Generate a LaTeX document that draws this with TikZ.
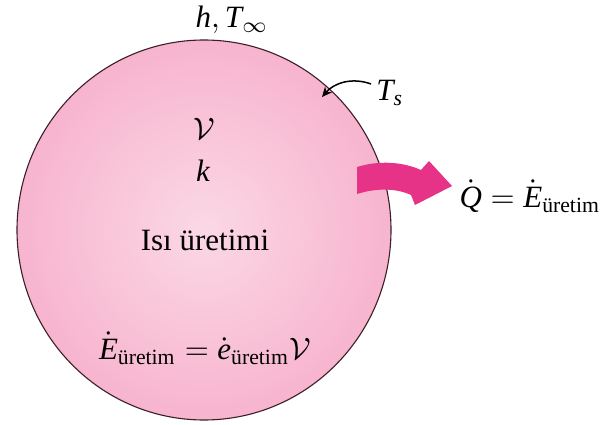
\documentclass[tikz,border=0pt]{standalone}
\usepackage{amsmath}
\usepackage{fontspec}
\setmainfont{Liberation Serif}
\usetikzlibrary{arrows.meta,shapes.geometric}
\newcommand{\dt}[1]{\dot{\textit{#1}}}
\definecolor{spherein}{RGB}{251,216,229}
\definecolor{sphereout}{RGB}{247,180,206}
\definecolor{heatarrow}{RGB}{230,50,135}
\definecolor{rimcol}{RGB}{60,30,40}
\begin{document}
\begin{tikzpicture}[x=1pt,y=-1pt,
  lbl/.style={inner sep=0pt, scale=3.1},
  sphere/.style={ellipse, draw=rimcol, line width=1.1pt, inner color=spherein, outer color=sphereout,
    minimum width=374pt, minimum height=380pt, inner sep=0pt}]
\useasboundingbox (0,0) rectangle (611,425);
\node[sphere] (sph) at (204,230) {};
\node[lbl] (amb) at (232,20) {$\textit{h}, \textit{T}_{\infty}$};
\node[lbl] (ts) at (390,93) {$\textit{T}_{\textit{s}}$};
\node[lbl] (vol) at (204,129) {$\mathcal{V}$};
\node[lbl] (kk) at (203,171) {$\textit{k}$};
\node[lbl] (gen) at (205,240) {Isı üretimi};
\node[lbl] (form) at (205,348) {$\dt{E}_{\text{üretim}} = \dt{e}_{\text{üretim}}\mathcal{V}$};
\node[lbl, anchor=west] (qq) at (459,196) {$\dt{Q} = \dt{E}_{\text{üretim}}$};
\coordinate (tsstart) at (371,84);
\coordinate (tsend) at (322,97);
\draw[line width=1.5pt, -{Stealth[length=10pt,width=9pt]}] (tsstart) .. controls (352,77) and (334,83) .. (tsend);
\fill[heatarrow] (357,167) .. controls (380,160) and (403,162) .. (421,170)
  -- (429,161) -- (452,186) -- (415,205) -- (411,195)
  .. controls (396,188) and (376,188) .. (357,194) -- cycle;
\end{tikzpicture}
\end{document}
